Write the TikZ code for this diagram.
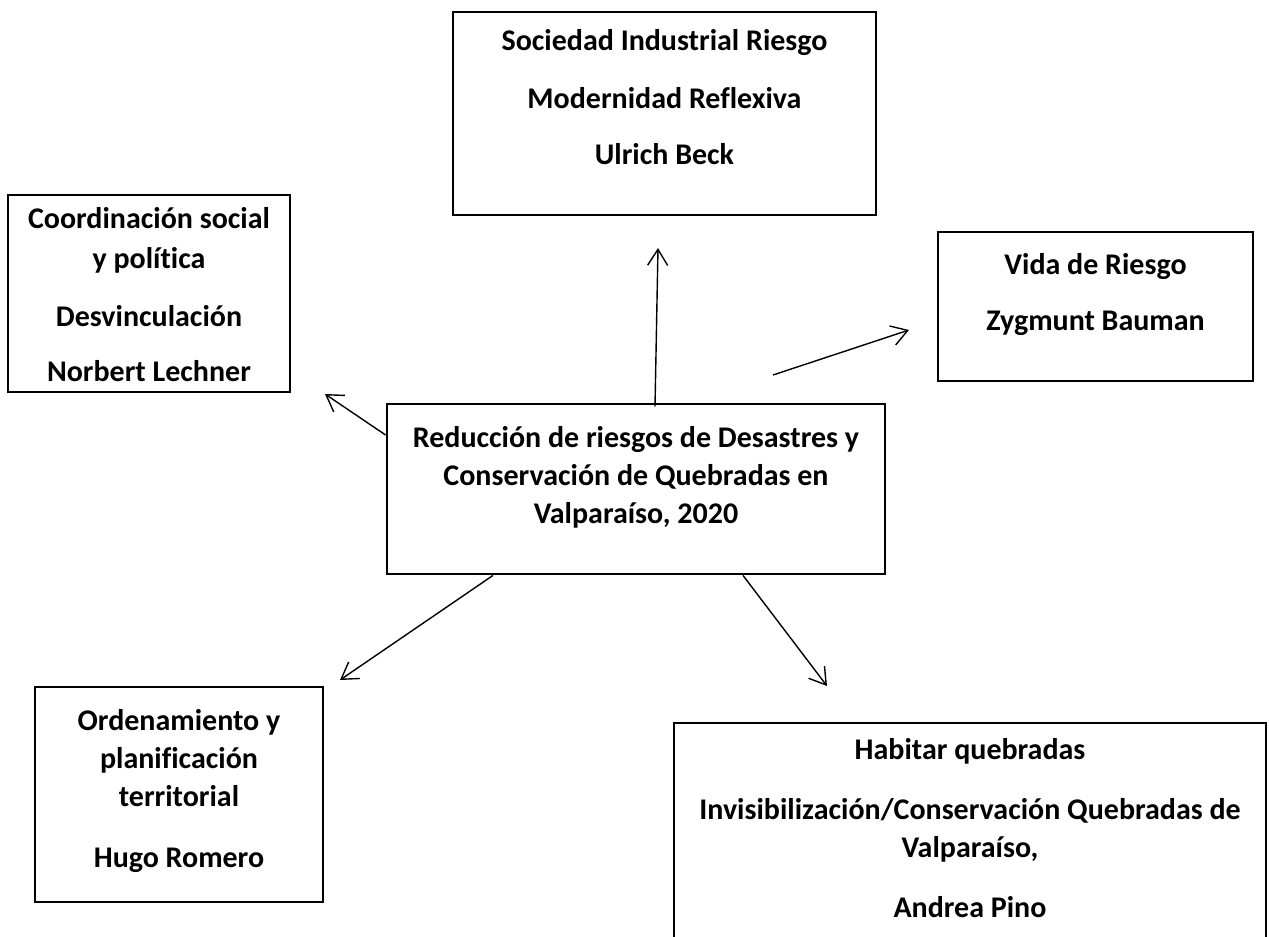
\documentclass[tikz,border=0pt]{standalone}
\usepackage{fontspec}
\setmainfont{Carlito}[Ligatures=NoCommon]
\usetikzlibrary{arrows.meta}
\tikzset{
    Box/.style = {draw,line width=2.8pt,inner sep=0pt},
    Txt/.style = {align=center,inner sep=0pt,anchor=north,
        font=\bfseries\fontsize{30}{38}\selectfont},
    Link/.style = {line width=1.4pt,-{Straight Barb[length=16pt,width=20pt]}}
}

\begin{document}
\begin{tikzpicture}[x=1pt,y=-1pt]
    \useasboundingbox (0,0) rectangle (1269,937);
    \clip (0,0) rectangle (1269,937);
    % boxes
    \node[Box,minimum width=423,minimum height=203] (beckbox) at (664.5,113.5) {};
    \node[Box,minimum width=282,minimum height=197] (lechnerbox) at (149,293.5) {};
    \node[Box,minimum width=315,minimum height=149] (baumanbox) at (1095.5,306.5) {};
    \node[Box,minimum width=498,minimum height=170] (centrebox) at (636,489) {};
    \node[Box,minimum width=288,minimum height=215] (romerobox) at (179,794.5) {};
    \node[Box,minimum width=592,minimum height=240] (pinobox) at (970,843) {};
    % texts
    \node[Txt] (beck) at (664.5,29)
        {Sociedad Industrial Riesgo\\[20pt] Modernidad Reflexiva\\[18pt] Ulrich Beck};
    \node[Txt] (lechner) at (149,207)
        {Coordinación social\\[2pt] y política\\[20pt] Desvinculación\\[17pt] Norbert Lechner};
    \node[Txt] (bauman) at (1095.5,253)
        {Vida de Riesgo\\[18pt] Zygmunt Bauman};
    \node[Txt] (centre) at (636,426)
        {Reducción de riesgos de Desastres y\\ Conservación de Quebradas en\\ Valparaíso, 2020};
    \node[Txt] (romero) at (179,709)
        {Ordenamiento y\\ planificación\\ territorial\\[23pt] Hugo Romero};
    \node[Txt] (pino) at (970,738)
        {Habitar quebradas\\[22pt] Invisibilización/Conservación Quebradas de\\ Valparaíso,\\[22pt] Andrea Pino};
    % free ends of the arrows
    \coordinate (lechnertip) at (325,394);
    \coordinate (becktip) at (658,248);
    \coordinate (baumanfoot) at (773,375);
    \coordinate (baumantip) at (909,330);
    \coordinate (romerotip) at (340,680);
    \coordinate (pinotip) at (827,686);
    % arrows
    \draw[Link] ([yshift=54pt]centrebox.west) -- (lechnertip);
    \draw[Link] ([xshift=19pt,yshift=-4pt]centrebox.north) -- (becktip);
    \draw[Link] (baumanfoot) -- (baumantip);
    \draw[Link] ([xshift=-143pt]centrebox.south) -- (romerotip);
    \draw[Link] ([xshift=107pt]centrebox.south) -- (pinotip);
\end{tikzpicture}
\end{document}
